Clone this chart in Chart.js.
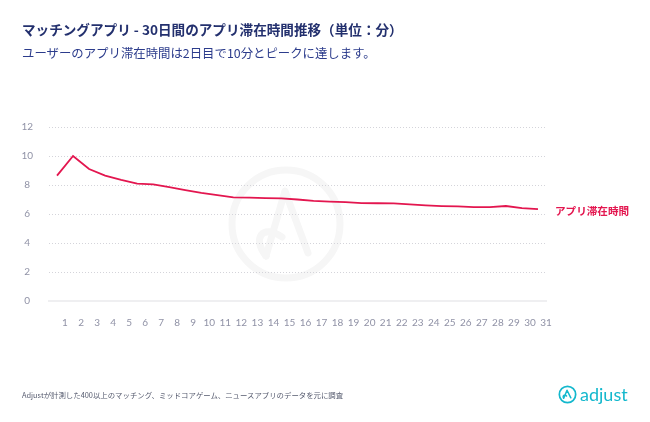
<!DOCTYPE html>
<html>
<head>
<meta charset="utf-8">
<script src="https://cdn.jsdelivr.net/npm/chart.js@4.4.1/dist/chart.umd.min.js"></script>
<style>
  html, body { margin: 0; padding: 0; background: #fff; }
  body { width: 650px; height: 422px; position: relative; overflow: hidden;
         font-family: Lato, 'Noto Sans CJK JP', sans-serif; }
  #wrap { position: absolute; left: 0; top: 0; width: 650px; height: 422px; }
  .title { position: absolute; left: 22px; top: 19px; font-size: 13.6px; font-weight: 700;
           color: #23306e; font-family: 'Noto Sans CJK JP', sans-serif; white-space: nowrap; }
  .subtitle { position: absolute; left: 22px; top: 44px; font-size: 12.4px; font-weight: 400;
              color: #2c3c8c; font-family: 'Noto Sans CJK JP', sans-serif; white-space: nowrap; }
  .footer { position: absolute; left: 22px; top: 389px; font-size: 7.4px; color: #555a6e;
            font-family: 'Noto Sans CJK JP', sans-serif; white-space: nowrap; }
  .logo { position: absolute; left: 558px; top: 383px; height: 22px; display: flex; align-items: center; }
  .logo span { font-family: Lato, sans-serif; font-size: 18px; color: #14b8cd; margin-left: 3px; line-height: 22px; }
</style>
</head>
<body>
<div id="wrap"><canvas id="chart" width="650" height="422"></canvas></div>
<div class="title">マッチングアプリ - 30日間のアプリ滞在時間推移（単位：分）</div>
<div class="subtitle">ユーザーのアプリ滞在時間は2日目で10分とピークに達します。</div>
<div class="footer">Adjustが計測した400以上のマッチング、ミッドコアゲーム、ニュースアプリのデータを元に調査</div>
<div class="logo">
  <svg width="19" height="19" viewBox="0 0 20 20">
    <circle cx="10" cy="10" r="8.6" fill="none" stroke="#14b8cd" stroke-width="1.8"/>
    <path d="M6 14 L9.5 5.5 L13.5 13.5 M6 14 C4.5 11 7 9.5 9 11.5" fill="none" stroke="#14b8cd" stroke-width="1.6" stroke-linecap="round" stroke-linejoin="round"/>
  </svg>
  <span>adjust</span>
</div>
<script>
const days = ['1','2','3','4','5','6','7','8','9','10','11','12','13','14','15','16',
  '17','18','19','20','21','22','23','24','25','26','27','28','29','30','31'];
const stayMinutes = [8.65, 10.0, 9.1, 8.65, 8.35, 8.1, 8.05, 7.85, 7.65, 7.45, 7.3, 7.15, 7.13, 7.1, 7.08,
  7.0, 6.9, 6.85, 6.82, 6.75, 6.74, 6.73, 6.67, 6.6, 6.55, 6.52, 6.47, 6.47, 6.55, 6.4, 6.33];
const yTicks = [0, 2, 4, 6, 8, 10, 12];
const seriesName = 'アプリ滞在時間';
const lineColor = '#e3164f';

// faint logo mark behind the plot
const watermark = {
  id: 'watermark',
  beforeDraw(chart) {
    const ctx = chart.ctx;
    ctx.save();
    ctx.strokeStyle = '#f6f6f6';
    ctx.lineWidth = 7;
    ctx.beginPath();
    ctx.arc(286, 224, 54, 0, Math.PI * 2);
    ctx.stroke();
    ctx.lineCap = 'round';
    ctx.lineJoin = 'round';
    ctx.beginPath();
    ctx.moveTo(266, 256);
    ctx.lineTo(285, 191);
    ctx.lineTo(308, 253);
    ctx.stroke();
    ctx.beginPath();
    ctx.moveTo(266, 256);
    ctx.bezierCurveTo(252, 239, 262, 223, 282, 237);
    ctx.stroke();
    ctx.restore();
  }
};

// series name at the end of the line
const endLabel = {
  id: 'endLabel',
  afterDatasetsDraw(chart) {
    const meta = chart.getDatasetMeta(0);
    const last = meta.data[meta.data.length - 1];
    const ctx = chart.ctx;
    ctx.save();
    ctx.font = "700 10.6px 'Noto Sans CJK JP', sans-serif";
    ctx.fillStyle = lineColor;
    ctx.textAlign = 'left';
    ctx.textBaseline = 'middle';
    ctx.fillText(seriesName, last.x + 17, last.y + 1.5);
    ctx.restore();
  }
};

new Chart(document.getElementById('chart'), {
  type: 'line',
  data: {
    labels: days,
    datasets: [{
      label: seriesName,
      data: stayMinutes,
      borderColor: lineColor,
      borderWidth: 1.8,
      pointRadius: 0,
      tension: 0,
      fill: false
    }]
  },
  options: {
    responsive: false,
    animation: false,
    layout: { padding: { left: 10, right: 104, top: 127, bottom: 77 } },
    plugins: { legend: { display: false }, tooltip: { enabled: false } },
    scales: {
      x: {
        offset: true,
        grid: { display: false, drawTicks: false },
        border: { display: true, color: '#efeff1', width: 2 },
        ticks: {
          autoSkip: false, maxRotation: 0, padding: 16, labelOffset: 8,
          color: '#9092a6', font: { family: 'Lato', size: 10 }
        }
      },
      y: {
        min: 0, max: 12,
        afterFit(scale) { scale.width = 39; },
        afterBuildTicks(scale) { scale.ticks = yTicks.map(v => ({ value: v })); },
        grid: {
          drawTicks: false,
          color: ctx => ctx.tick && ctx.tick.value === 0 ? 'rgba(0,0,0,0)' : '#d4d4da',
          lineWidth: 1
        },
        border: { display: false, dash: [1, 2] },
        ticks: {
          padding: 16, crossAlign: 'center',
          color: '#9092a6', font: { family: 'Lato', size: 10 }
        }
      }
    }
  },
  plugins: [watermark, endLabel]
});
</script>
</body>
</html>
